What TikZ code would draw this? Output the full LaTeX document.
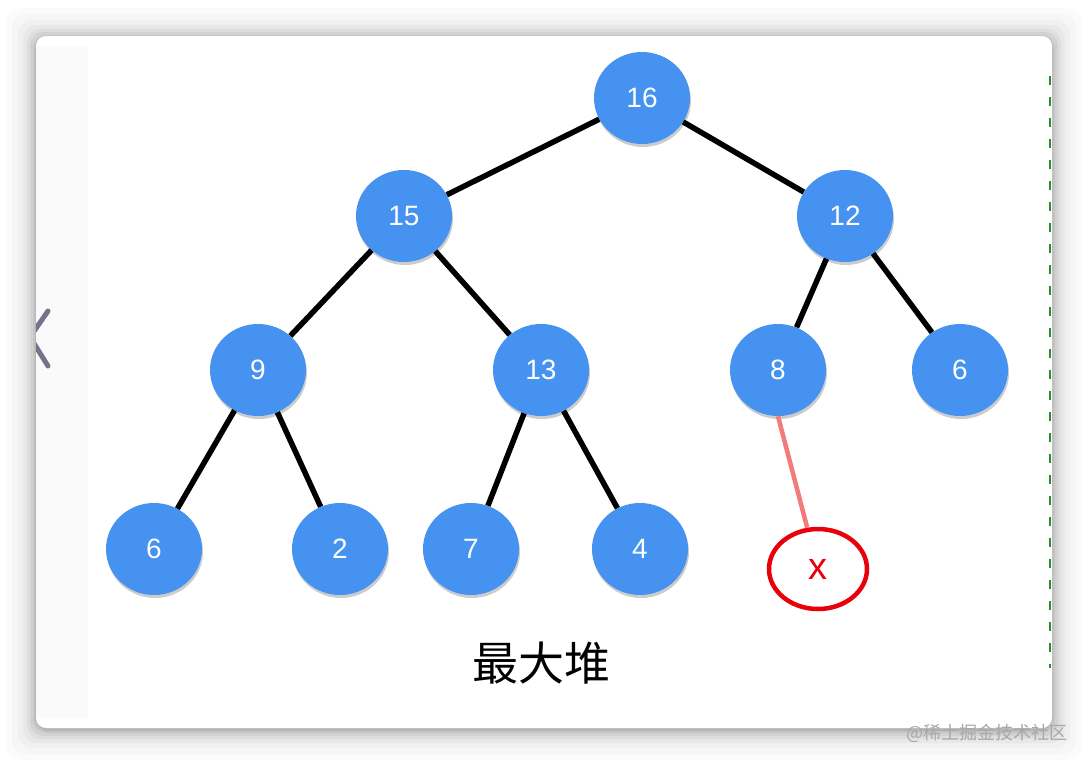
\documentclass[tikz,border=0pt]{standalone}
\usepackage{fontspec}
\setmainfont{Liberation Sans}
\newfontfamily\cjk{Noto Sans CJK SC}
\usetikzlibrary{shapes.geometric,shadows}
\definecolor{nodeblue}{HTML}{4592F0}
\definecolor{edgered}{HTML}{F27B7B}
\definecolor{xred}{HTML}{E8000B}
\definecolor{wmgray}{HTML}{A8A8A8}
\definecolor{dgreen}{HTML}{2E8B2E}
\tikzset{
  heap/.style={ellipse, fill=nodeblue, minimum width=96pt, minimum height=92pt, inner sep=0pt,
    text=white, font=\fontsize{28}{28}\selectfont,
    drop shadow={shadow xshift=1pt, shadow yshift=-3pt, opacity=0.2, fill=black}},
  edge/.style={line width=5.5pt, black},
  xnode/.style={ellipse, draw=xred, line width=4.5pt, fill=white, minimum width=98pt, minimum height=80pt,
    text=xred, font=\fontsize{38}{38}\selectfont},
}
\begin{document}
\begin{tikzpicture}[x=1pt,y=-1pt]
\useasboundingbox (0,0) rectangle (1088,764);
\fill[white] (0,0) rectangle (1088,764);
% card shadow
\foreach \i/\o in {30/0.015,24/0.02,18/0.025,13/0.03,9/0.04,6/0.05,3/0.06,1/0.08}{
  \fill[black, opacity=\o, rounded corners=14pt] (36-\i,36-\i+2) rectangle (1052+\i,728+\i+2);
}
\fill[white, rounded corners=10pt] (36,36) rectangle (1052,728);
\fill[black!2] (36,46) rectangle (88,718);
% left chevron
\begin{scope}
\clip (36,0) rectangle (100,764);
\draw[gray!90!blue, line width=5pt, line cap=round] (48,311) -- (30,337) -- (48,366);
\end{scope}
% dashed green line
\draw[dgreen, line width=2pt, dash pattern=on 9pt off 12pt] (1050,76) -- (1050,668);

\node[heap] (n16) at (642,98) {16};
\node[heap] (n15) at (404,216) {15};
\node[heap] (n12) at (845,216) {12};
\node[heap] (n9) at (258,370) {9};
\node[heap] (n13) at (541,370) {13};
\node[heap] (n8) at (778,370) {8};
\node[heap] (n6a) at (960,370) {6};
\node[heap] (n6b) at (154,549) {6};
\node[heap] (n2) at (340,549) {2};
\node[heap] (n7) at (471,549) {7};
\node[heap] (n4) at (640,549) {4};
\node[xnode] (x) at (818,569) {x};

\draw[edge] (n16) -- (n15);
\draw[edge] (n16) -- (n12);
\draw[edge] (n15) -- (n9);
\draw[edge] (n15) -- (n13);
\draw[edge] (n12) -- (n8);
\draw[edge] (n12) -- (n6a);
\draw[edge] (n9) -- (n6b);
\draw[edge] (n9) -- (n2);
\draw[edge] (n13) -- (n7);
\draw[edge] (n13) -- (n4);
\draw[edgered, line width=4.5pt] (n8.south) -- (x);

\node[font=\cjk\fontsize{46}{46}\selectfont] (title) at (541,663) {最大堆};
\node[font=\cjk\fontsize{18}{18}\selectfont, text=wmgray] (wm) at (987,733) {@稀土掘金技术社区};
\end{tikzpicture}
\end{document}
